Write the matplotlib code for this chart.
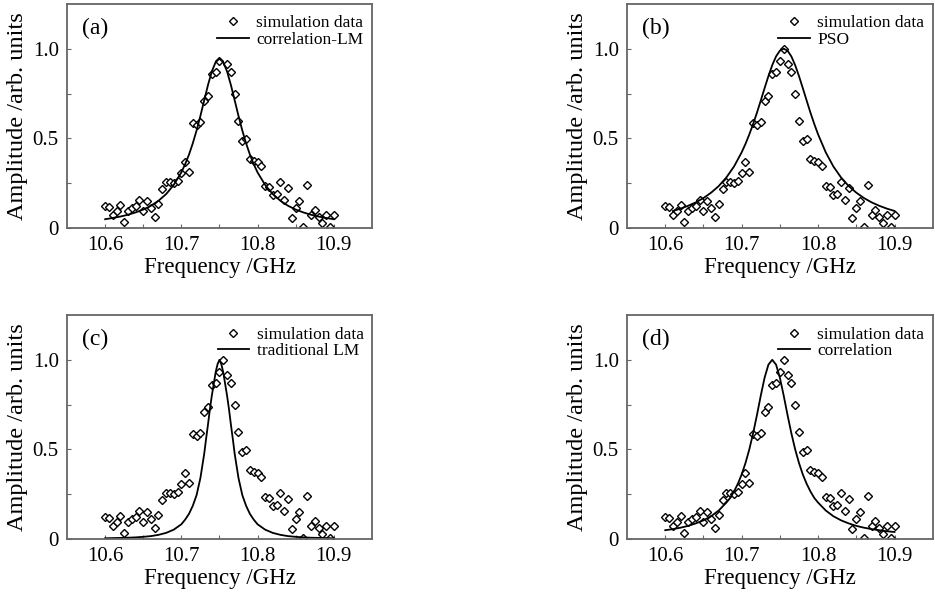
import numpy as np
import matplotlib
matplotlib.use('Agg')
import matplotlib.pyplot as plt

plt.rcParams['font.family'] = ['Liberation Serif', 'DejaVu Serif']

# dados simulados (mesmos nos 4 painéis)
freq = [10.600, 10.605, 10.610, 10.615, 10.620, 10.625, 10.630, 10.635, 10.640, 10.645,
        10.650, 10.655, 10.660, 10.665, 10.670, 10.675, 10.680, 10.685, 10.690, 10.695,
        10.700, 10.705, 10.710, 10.715, 10.720, 10.725, 10.730, 10.735, 10.740, 10.745,
        10.750, 10.755, 10.760, 10.765, 10.770, 10.775, 10.780, 10.785, 10.790, 10.795,
        10.800, 10.805, 10.810, 10.815, 10.820, 10.825, 10.830, 10.835, 10.840, 10.845,
        10.850, 10.855, 10.860, 10.865, 10.870, 10.875, 10.880, 10.885, 10.890, 10.895,
        10.900]
amp = [0.120, 0.116, 0.071, 0.094, 0.131, 0.034, 0.097, 0.110, 0.120, 0.157,
       0.094, 0.148, 0.109, 0.060, 0.133, 0.217, 0.255, 0.255, 0.251, 0.260,
       0.309, 0.367, 0.313, 0.584, 0.573, 0.590, 0.708, 0.736, 0.861, 0.869,
       0.933, 1.000, 0.914, 0.869, 0.749, 0.596, 0.487, 0.494, 0.384, 0.376,
       0.367, 0.346, 0.232, 0.228, 0.184, 0.189, 0.258, 0.157, 0.225, 0.058,
       0.112, 0.152, 0.004, 0.242, 0.075, 0.103, 0.062, 0.026, 0.071, 0.007,
       0.075]

# curvas ajustadas
fit_a_x = [10.60, 10.61, 10.62, 10.63, 10.64, 10.65, 10.66, 10.67, 10.68, 10.69, 10.70,
           10.705, 10.71, 10.715, 10.72, 10.725, 10.73, 10.735, 10.74, 10.745, 10.75,
           10.755, 10.76, 10.765, 10.77, 10.775, 10.78, 10.785, 10.79, 10.795,
           10.80, 10.81, 10.82, 10.83, 10.84, 10.85, 10.86, 10.87, 10.88, 10.89, 10.90]
fit_a_y = [0.049, 0.056, 0.064, 0.074, 0.087, 0.103, 0.124, 0.152, 0.189, 0.240, 0.310,
           0.356, 0.409, 0.472, 0.544, 0.625, 0.712, 0.798, 0.873, 0.925, 0.944,
           0.925, 0.873, 0.798, 0.712, 0.625, 0.544, 0.472, 0.409, 0.356,
           0.310, 0.240, 0.189, 0.152, 0.124, 0.103, 0.087, 0.074, 0.064, 0.056, 0.049]

fit_b_x = [10.61, 10.62, 10.63, 10.64, 10.65, 10.66, 10.67, 10.68, 10.69, 10.70,
           10.705, 10.71, 10.715, 10.72, 10.725, 10.73, 10.735, 10.74, 10.745, 10.75,
           10.755, 10.76, 10.765, 10.77, 10.775, 10.78, 10.785, 10.79, 10.795, 10.80,
           10.81, 10.82, 10.83, 10.84, 10.85, 10.86, 10.87, 10.88, 10.89, 10.90]
fit_b_y = [0.095, 0.108, 0.124, 0.143, 0.167, 0.197, 0.234, 0.282, 0.343, 0.422,
           0.469, 0.522, 0.580, 0.643, 0.711, 0.780, 0.847, 0.908, 0.957, 0.989,
           1.000, 0.989, 0.957, 0.908, 0.847, 0.780, 0.711, 0.643, 0.580, 0.522,
           0.422, 0.343, 0.282, 0.234, 0.197, 0.167, 0.143, 0.124, 0.108, 0.095]

fit_c_x = [10.60, 10.61, 10.62, 10.63, 10.64, 10.65, 10.66, 10.67, 10.68, 10.69, 10.70,
           10.705, 10.71, 10.715, 10.72, 10.725, 10.73, 10.7325, 10.735, 10.7375,
           10.74, 10.7425, 10.745, 10.7475, 10.75, 10.7525, 10.755, 10.7575, 10.76,
           10.7625, 10.765, 10.7675, 10.77, 10.775, 10.78, 10.785, 10.79, 10.795,
           10.80, 10.81, 10.82, 10.83, 10.84, 10.85, 10.86, 10.87, 10.88, 10.89, 10.90]
fit_c_y = [0.004, 0.005, 0.006, 0.007, 0.009, 0.012, 0.016, 0.023, 0.034, 0.052, 0.082,
           0.108, 0.140, 0.185, 0.245, 0.340, 0.475, 0.560, 0.640, 0.725,
           0.800, 0.865, 0.930, 0.975, 1.000, 0.975, 0.930, 0.865, 0.800,
           0.725, 0.640, 0.560, 0.475, 0.340, 0.245, 0.185, 0.140, 0.108,
           0.082, 0.052, 0.034, 0.023, 0.016, 0.012, 0.009, 0.007, 0.006, 0.005, 0.004]

fit_d_x = [10.60, 10.61, 10.62, 10.63, 10.64, 10.65, 10.66, 10.67, 10.68,
           10.685, 10.69, 10.695, 10.70, 10.705, 10.71, 10.715, 10.72, 10.725, 10.73,
           10.735, 10.74, 10.745, 10.75, 10.755, 10.76, 10.765, 10.77, 10.775, 10.78,
           10.785, 10.79, 10.795, 10.80, 10.81, 10.82, 10.83, 10.84, 10.85, 10.86,
           10.87, 10.88, 10.89, 10.90]
fit_d_y = [0.049, 0.055, 0.063, 0.073, 0.087, 0.104, 0.127, 0.159, 0.203,
           0.229, 0.265, 0.308, 0.360, 0.424, 0.500, 0.590, 0.692, 0.800, 0.900,
           0.973, 1.000, 0.973, 0.900, 0.800, 0.692, 0.590, 0.500, 0.424, 0.360,
           0.308, 0.265, 0.229, 0.203, 0.159, 0.127, 0.104, 0.087, 0.073, 0.063,
           0.055, 0.049, 0.043, 0.039]

fit_names = ['correlation-LM', 'PSO', 'traditional LM', 'correlation']
panel_tags = ['(a)', '(b)', '(c)', '(d)']
fits = [(fit_a_x, fit_a_y), (fit_b_x, fit_b_y), (fit_c_x, fit_c_y), (fit_d_x, fit_d_y)]

x_ticks = [10.6, 10.7, 10.8, 10.9]
x_tick_labels = ['10.6', '10.7', '10.8', '10.9']
y_ticks = [0, 0.5, 1.0]
y_tick_labels = ['0', '0.5', '1.0']

freq = np.array(freq)
amp = np.array(amp)

fig = plt.figure(figsize=(9.35, 5.93), dpi=100)
boxes = [[0.0717, 0.6155, 0.326, 0.378],
         [0.6706, 0.6155, 0.327, 0.378],
         [0.0717, 0.0911, 0.326, 0.3777],
         [0.6706, 0.0911, 0.327, 0.3777]]

for i in range(4):
    ax = fig.add_axes(boxes[i])
    # no painel (a) o ponto do pico não aparece
    if i == 0:
        m = amp < 0.99
    else:
        m = np.ones(len(amp), dtype=bool)
    ax.plot(freq[m], amp[m], 'D', ms=4, mfc='white', mec='black', mew=1.0,
            label='simulation data')
    ax.plot(fits[i][0], fits[i][1], 'k-', lw=1.3, label=fit_names[i])

    ax.set_xlim(10.55, 10.95)
    ax.set_ylim(0, 1.25)
    ax.set_xticks(x_ticks)
    ax.set_xticklabels(x_tick_labels)
    ax.set_xticks([10.65, 10.75, 10.85], minor=True)
    ax.set_yticks(y_ticks)
    ax.set_yticklabels(y_tick_labels)
    ax.set_yticks([0.25, 0.75], minor=True)
    ax.tick_params(which='both', direction='in', length=3, width=0.8, color='#666666',
                   labelsize=15, pad=6)
    for s in ax.spines.values():
        s.set_color('#666666')
        s.set_linewidth(1.3)

    ax.set_xlabel('Frequency /GHz', fontsize=16.5, labelpad=1)
    ax.set_ylabel('Amplitude /arb. units', fontsize=17.5, labelpad=3)
    ax.legend(loc='upper right', bbox_to_anchor=(0.99, 0.972), frameon=False,
              fontsize=12.5, handlelength=1.8, handletextpad=0.45, labelspacing=0.0,
              borderaxespad=0.1, borderpad=0.2, numpoints=1)
    ax.text(0.05, 0.89, panel_tags[i], transform=ax.transAxes, fontsize=17, va='center')

fig.savefig('out.png', dpi=100)
